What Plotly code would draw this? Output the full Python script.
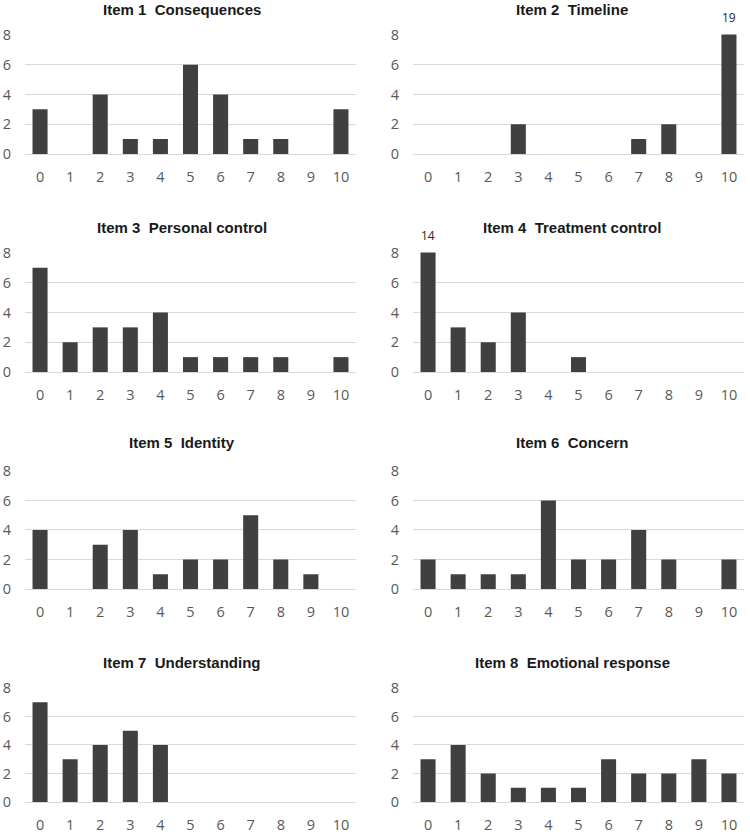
import plotly.graph_objects as go

categories = [str(i) for i in range(11)]

titles = [
    "Item 1  Consequences",
    "Item 2  Timeline",
    "Item 3  Personal control",
    "Item 4  Treatment control",
    "Item 5  Identity",
    "Item 6  Concern",
    "Item 7  Understanding",
    "Item 8  Emotional response",
]

item1 = [3, 0, 4, 1, 1, 6, 4, 1, 1, 0, 3]
item2 = [0, 0, 0, 2, 0, 0, 0, 1, 2, 0, 19]
item3 = [7, 2, 3, 3, 4, 1, 1, 1, 1, 0, 1]
item4 = [14, 3, 2, 4, 0, 1, 0, 0, 0, 0, 0]
item5 = [4, 0, 3, 4, 1, 2, 2, 5, 2, 1, 0]
item6 = [2, 1, 1, 1, 6, 2, 2, 4, 2, 0, 2]
item7 = [7, 3, 4, 5, 4, 0, 0, 0, 0, 0, 0]
item8 = [3, 4, 2, 1, 1, 1, 3, 2, 2, 3, 2]

series = [item1, item2, item3, item4, item5, item6, item7, item8]

y_max = 8
y_ticks = [0, 2, 4, 6, 8]

W, H = 750, 836
# plot area in page px
PL, PR, PT, PB = 25, 744, 34, 802
ML, MR, MT, MB = PL, W - PR, PT, H - PB
pw = PR - PL
ph = PB - PT

def xd(a, b):
    return [(a - PL) / pw, (b - PL) / pw]

def yd(top, bottom):
    return [max(0.0, (PB - bottom) / ph), min(1.0, (PB - top) / ph)]

x_domains = [xd(25, 356), xd(413, 744)]
row_px = [(34.5, 154), (252.5, 372), (470.5, 589), (687.5, 802)]
title_px_y = [9, 227, 443, 662]
title_px_x = [182, 572]

fig = go.Figure()
annotations = []
tick_font = dict(family="Open Sans, Liberation Sans, sans-serif", size=14.5, color="#595959")

for i, (vals, title) in enumerate(zip(series, titles)):
    row, col = divmod(i, 2)
    n = i + 1
    xa = "x" if n == 1 else f"x{n}"
    ya = "y" if n == 1 else f"y{n}"
    fig.add_trace(go.Bar(
        x=categories, y=vals, xaxis=xa, yaxis=ya,
        marker=dict(color="#404040", line=dict(width=0)),
        width=0.5, showlegend=False, hoverinfo="x+y",
    ))
    top, bottom = row_px[row]
    fig.layout[f"xaxis{'' if n == 1 else n}"] = dict(
        domain=x_domains[col], anchor=ya, type="category",
        categoryorder="array", categoryarray=categories,
        range=[-0.5, 10.5], showgrid=False, showline=False, zeroline=False,
        ticks="", tickfont=tick_font, ticklabelstandoff=12, fixedrange=True,
    )
    fig.layout[f"yaxis{'' if n == 1 else n}"] = dict(
        domain=yd(top, bottom), anchor=xa, range=[0, y_max * 1.004],
        tickvals=y_ticks, showgrid=True, gridcolor="#d9d9d9", gridwidth=1,
        zeroline=True, zerolinecolor="#d9d9d9", zerolinewidth=1,
        showline=False, ticks="", tickfont=tick_font, ticklabelstandoff=13,
        fixedrange=True,
    )
    annotations.append(dict(
        text=f"<b>{title}</b>", xref="paper", yref="paper",
        x=(title_px_x[col] - PL) / pw, y=(PB - title_px_y[row]) / ph,
        xanchor="center", yanchor="middle", showarrow=False,
        font=dict(family="Liberation Sans, Arial, sans-serif", size=15, color="#1a1a1a"),
    ))
    for c, v in zip(categories, vals):
        if v > y_max:
            annotations.append(dict(
                text=str(v), xref=xa, yref=ya, x=c, y=y_max,
                xanchor="center", yanchor="bottom", yshift=7, showarrow=False,
                font=dict(family="Open Sans, Liberation Sans, sans-serif", size=12, color="#262626"),
            ))

fig.update_layout(
    width=W, height=H,
    margin=dict(l=ML, r=MR, t=MT, b=MB, autoexpand=False),
    plot_bgcolor="white", paper_bgcolor="white",
    annotations=annotations, bargap=0.5,
)

fig.write_html(
    "out.html",
    config={"displayModeBar": False},
    post_script="document.body.style.margin='0';document.body.style.overflow='hidden';",
)
